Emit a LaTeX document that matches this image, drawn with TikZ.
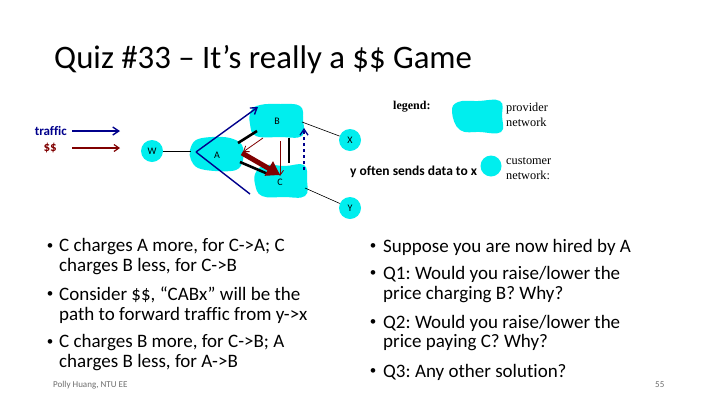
\documentclass[tikz,border=0pt]{standalone}
\usepackage{fontspec}
\setmainfont{Carlito}[Ligatures={NoCommon}]
\newfontfamily\timesfont{Liberation Serif}
\usetikzlibrary{arrows.meta}
\definecolor{netcyan}{RGB}{0,238,238}
\definecolor{trafblue}{RGB}{0,0,140}
\definecolor{moneyred}{RGB}{128,0,0}
\definecolor{footgray}{RGB}{110,110,110}
\frenchspacing
\tikzset{
  blob/.style={fill=netcyan, draw=none},
  custnet/.style={circle, fill=netcyan, minimum size=22pt, inner sep=0pt, font=\fontsize{10}{10}\selectfont},
  netlabel/.style={font=\fontsize{10}{10}\selectfont, inner sep=0pt},
  link/.style={draw=black, line width=0.6pt},
  peer/.style={draw=black, line width=2.6pt},
  trafarrow/.style={draw=trafblue, line width=1.4pt, -{Straight Barb[length=6pt,width=8pt]}},
  payarrow/.style={draw=moneyred, line width=0.8pt, -{Straight Barb[length=5pt,width=7pt]}},
  bodytext/.style={anchor=west, inner sep=0pt, font=\fontsize{19}{20}\selectfont},
  bullet/.style={anchor=center, inner sep=0pt, font=\fontsize{13}{13}\selectfont},
  legendtext/.style={anchor=west, inner sep=0pt, align=left, font=\timesfont\fontsize{12.3}{15}\selectfont},
}
\begin{document}
\begin{tikzpicture}[x=1pt,y=-1pt]
\useasboundingbox[fill=white] (0,0) rectangle (720,405);

% title
\node[anchor=west, inner sep=0pt, font=\fontsize{32.8}{33}\selectfont] (title) at (54,60) {Quiz \#33 – It’s really a \$\$ Game};

% key for the two arrow colours
\node[anchor=east, inner sep=0pt, text=trafblue, font=\bfseries\fontsize{13}{13}\selectfont] (traflbl) at (67,131) {traffic};
\node[anchor=east, inner sep=0pt, text=moneyred, font=\bfseries\fontsize{13}{13}\selectfont] (paylbl) at (57,148) {\$\$};
\coordinate (tk1) at (72,131); \coordinate (tk2) at (120,131);
\coordinate (pk1) at (72,148); \coordinate (pk2) at (120,148);
\draw[trafarrow] (tk1) -- (tk2);
\draw[payarrow, line width=1.2pt] (pk1) -- (pk2);

% provider networks
\fill[blob] plot[smooth cycle, tension=0.6] coordinates {(190,150) (196,140) (212,137) (230,138) (242,145) (243,160) (236,170) (215,171) (198,168) (191,160)};
\fill[blob] plot[smooth cycle, tension=0.7] coordinates {(251,111) (260,105) (280,104) (300,106) (303,120) (302,136) (280,137) (256,136) (250,124)};
\fill[blob] plot[smooth cycle, tension=0.7] coordinates {(256,172) (266,165) (285,166) (304,165) (307,180) (305,196) (284,197) (262,196) (255,184)};
\node[netlabel] (A) at (217,155) {A};
\node[netlabel] (B) at (277,121) {B};
\node[netlabel] (C) at (280,182) {C};
\coordinate (Ae) at (191,151);
\coordinate (Bx) at (302,122);
\coordinate (Cy) at (305,188);

% customer networks
\node[custnet] (W) at (152,151) {W};
\node[custnet] (X) at (350,140) {X};
\node[custnet] (Y) at (350,208) {Y};
\draw[link] (W) -- (Ae);
\draw[link] (Bx) -- (X);
\draw[link] (Cy) -- (Y);

% peering / transit links
\coordinate (ab1) at (238,143); \coordinate (ab2) at (257,131);
\coordinate (ac1) at (240,162); \coordinate (ac2) at (268,174);
\coordinate (bc1) at (289,138); \coordinate (bc2) at (289,163);
\draw[peer] (ab1) -- (ab2);
\draw[peer] (ac1) -- (ac2);
\draw[peer] (bc1) -- (bc2);

% traffic paths
\coordinate (v0) at (196,152);
\coordinate (v1) at (258,107);
\coordinate (v2) at (250,194);
\draw[trafarrow] (v0) -- (v1);
\draw[draw=trafblue, line width=1.4pt] (v0) -- (v2);
\coordinate (yx1) at (304,170); \coordinate (yx2) at (304,128);
\draw[trafarrow, dashed, line width=1.3pt] (yx1) -- (yx2);

% money flows
\coordinate (ba1) at (263,138); \coordinate (ba2) at (243,152);
\draw[payarrow] (ba1) -- (ba2);
\coordinate (bcm1) at (280,141); \coordinate (bcm2) at (280,176);
\draw[payarrow] (bcm1) -- (bcm2);
\coordinate (acm1) at (242,153); \coordinate (acm2) at (280,175);
\draw[draw=moneyred, line width=5pt, -{Triangle[length=13pt,width=16pt]}] (acm1) -- (acm2);

% legend
\node[anchor=west, inner sep=0pt, font=\timesfont\bfseries\fontsize{12}{12}\selectfont] (leg) at (393,107) {legend:};
\fill[blob] plot[smooth cycle, tension=0.7] coordinates {(452,112) (458,102) (478,101) (500,101) (502,116) (501,132) (480,132) (460,130)};
\node[legendtext] (provlbl) at (506,114.5) {provider\\network};
\node[custnet, minimum size=21pt] (cust) at (491,166) {};
\node[legendtext] (custlbl) at (506,168.5) {customer\\network:};
\node[anchor=west, inner sep=0pt, font=\bfseries\fontsize{13.5}{13.5}\selectfont] (note) at (350,172) {y often sends data to x};

% left column
\node[bullet] (bl1) at (50,247) {•};
\node[bodytext] (l1) at (59,247) {C charges A more, for C->A; C};
\node[bodytext] (l1b) at (59,267) {charges B less, for C->B};
\node[bullet] (bl2) at (50,295) {•};
\node[bodytext] (l2) at (59,295) {Consider \$\$, “CABx” will be the};
\node[bodytext] (l2b) at (59,315) {path to forward traffic from y->x};
\node[bullet] (bl3) at (50,343) {•};
\node[bodytext] (l3) at (59,343) {C charges B more, for C->B; A};
\node[bodytext] (l3b) at (59,363) {charges B less, for A->B};

% right column
\node[bullet] (br1) at (373,247) {•};
\node[bodytext] (r1) at (383,247) {Suppose you are now hired by A};
\node[bullet] (br2) at (373,274) {•};
\node[bodytext] (r2) at (383,274) {Q1: Would you raise/lower the};
\node[bodytext] (r2b) at (383,295) {price charging B? Why?};
\node[bullet] (br3) at (373,323) {•};
\node[bodytext] (r3) at (383,323) {Q2: Would you raise/lower the};
\node[bodytext] (r3b) at (383,343) {price paying C? Why?};
\node[bullet] (br4) at (373,372) {•};
\node[bodytext] (r4) at (383,372) {Q3: Any other solution?};

% footer
\node[anchor=west, inner sep=0pt, text=footgray, font=\fontsize{9}{9}\selectfont] (foot) at (53,385) {Polly Huang, NTU EE};
\node[anchor=west, inner sep=0pt, text=footgray, font=\fontsize{9}{9}\selectfont] (page) at (655,385) {55};
\end{tikzpicture}
\end{document}
